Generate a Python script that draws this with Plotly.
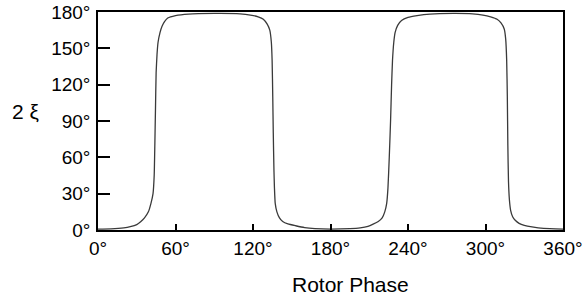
import plotly.graph_objects as go

# Rotor phase (degrees) and 2ξ (degrees)
rotor_phase = [0, 10, 20, 25, 30, 33, 36, 39, 41, 42.6, 43.5, 44, 44.5, 45, 45.7, 46.5, 48,
               49.5, 51.5, 54, 60, 70, 90, 110, 118, 124, 128, 131, 133, 134.2, 134.8, 135.3,
               135.7, 136.2, 136.6, 137.2, 138.5, 140.5, 143, 147, 153, 160, 168, 180, 195,
               203, 209, 213, 217, 220, 222, 223.5, 224.5, 225.5, 226.5, 227.3, 228, 229, 230,
               232, 235, 240, 247, 257, 275, 290, 298, 304, 309, 312, 314.5, 315.6, 316.4,
               316.9, 317.3, 317.8, 318.5, 319.5, 321, 323, 326, 330, 336, 345, 360]
two_xi = [0.8, 1.0, 1.8, 2.8, 4.5, 6.8, 10, 15, 22, 30, 45, 70, 100, 130, 145, 155, 163,
          168, 172, 175, 177, 178.3, 178.8, 178.5, 177.5, 176, 174, 170, 165, 155, 140, 110,
          80, 50, 35, 22, 15, 10, 7, 5, 3.5, 2, 1.2, 0.8, 1.2,
          1.8, 3, 4.8, 7, 10, 15, 22, 35, 60, 90, 120, 140, 155, 163,
          169, 173, 175.5, 177, 178.3, 178.8, 178.5, 177.5, 176, 174, 171, 166, 158, 140,
          110, 70, 40, 25, 16, 11, 8, 5.5, 3.8, 2.5, 1.3, 0.8]

x_ticks = [0, 60, 120, 180, 240, 300, 360]
x_tick_labels = ["0°", "60°", "120°", "180°", "240°", "300°", "360°"]
y_ticks = [0, 30, 60, 90, 120, 150, 180]
y_tick_labels = ["0°", "30°", "60°", "90°", "120°", "150°", "180°"]

fig = go.Figure()
fig.add_trace(go.Scatter(x=rotor_phase, y=two_xi, mode="lines",
                         line=dict(color="#3a3a3a", width=1.3, shape="spline", smoothing=0.5),
                         showlegend=False, hoverinfo="skip"))

font = dict(family="Liberation Sans, Arial, sans-serif", size=19, color="black")
label_font = dict(family="Liberation Sans, Arial, sans-serif", size=21, color="black")

fig.update_layout(
    width=583, height=300,
    margin=dict(l=98, r=20, t=12, b=70, autoexpand=False),
    paper_bgcolor="white", plot_bgcolor="white",
    font=font,
    xaxis=dict(range=[0, 360], tickvals=x_ticks, ticktext=x_tick_labels,
               ticks="inside", ticklen=6, tickwidth=1.5, tickcolor="black",
               showline=True, linecolor="black", linewidth=1.5, mirror=True,
               showgrid=False, zeroline=False, automargin=False, ticklabelstandoff=0,
               ticklabeloverflow="allow"),
    yaxis=dict(range=[0, 180], tickvals=y_ticks, ticktext=y_tick_labels,
               ticks="inside", ticklen=12, tickwidth=1.5, tickcolor="black",
               showline=True, linecolor="black", linewidth=1.5, mirror=True,
               showgrid=False, zeroline=False, automargin=False, ticklabelstandoff=2,
               ticklabeloverflow="allow"),
    annotations=[
        dict(text="Rotor Phase", xref="paper", yref="paper", x=(350 - 98) / 465,
             y=(230 - 284) / 218,
             xanchor="center", yanchor="middle", showarrow=False, font=label_font),
        dict(text="2 ξ", xref="paper", yref="paper", x=(25 - 98) / 465, y=(230 - 111) / 218,
             xanchor="center", yanchor="middle", showarrow=False, font=label_font),
    ],
)

fig.write_html("out.html", config={"displayModeBar": False},
               post_script="document.body.style.margin='0';document.body.style.overflow='hidden';")
